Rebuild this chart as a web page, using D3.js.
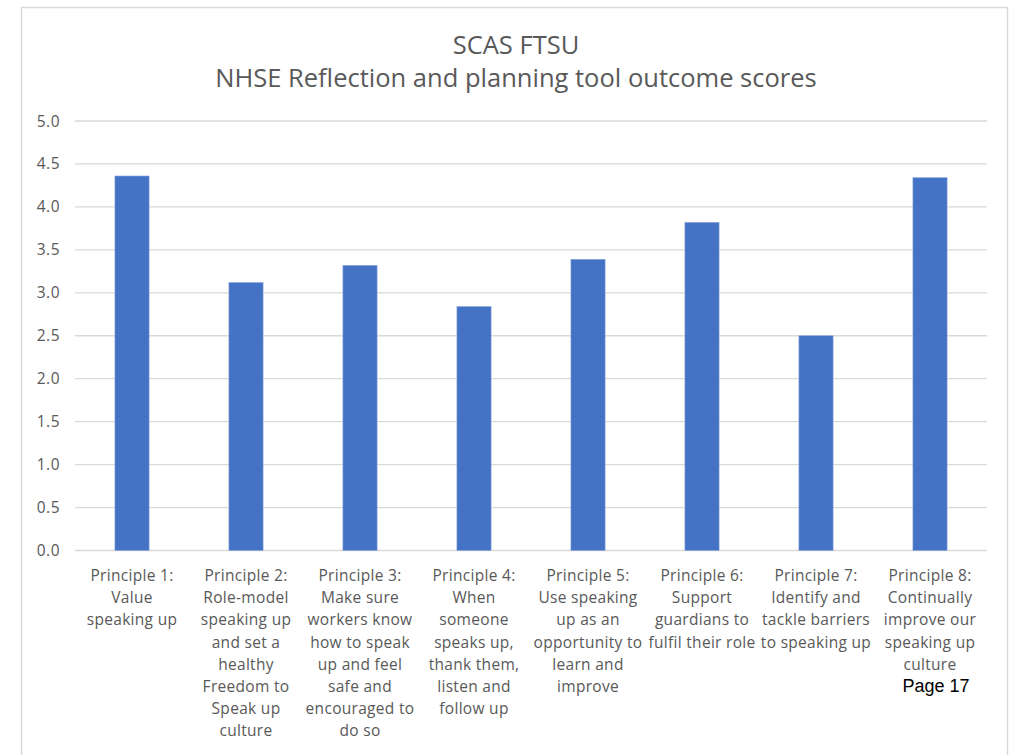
<!DOCTYPE html>
<html>
<head>
<meta charset="utf-8">
<script src="https://cdn.jsdelivr.net/npm/d3@7"></script>
<style>
    body { margin: 0; background: #fff; }
    .tick-label { font-family: "Open Sans", sans-serif; font-size: 15.5px; letter-spacing: 0.5px; fill: #595959; }
    .cat-label { font-family: "Open Sans", sans-serif; font-size: 15.5px; letter-spacing: 0.3px; fill: #595959; }
    .chart-title { font-family: "Open Sans", sans-serif; fill: #595959; }
</style>
</head>
<body>
<div id="chart"></div>
<script>
// chart data
var categories = [
    "Principle 1:\nValue\nspeaking up",
    "Principle 2:\nRole-model\nspeaking up\nand set a\nhealthy\nFreedom to\nSpeak up\nculture",
    "Principle 3:\nMake sure\nworkers know\nhow to speak\nup and feel\nsafe and\nencouraged to\ndo so",
    "Principle 4:\nWhen\nsomeone\nspeaks up,\nthank them,\nlisten and\nfollow up",
    "Principle 5:\nUse speaking\nup as an\nopportunity to\nlearn and\nimprove",
    "Principle 6:\nSupport\nguardians to\nfulfil their role",
    "Principle 7:\nIdentify and\ntackle barriers\nto speaking up",
    "Principle 8:\nContinually\nimprove our\nspeaking up\nculture"
];
var scores = [4.36, 3.12, 3.32, 2.84, 3.39, 3.82, 2.50, 4.34];
var yTicks = [0, 0.5, 1, 1.5, 2, 2.5, 3, 3.5, 4, 4.5, 5];
var titleLines = ["SCAS FTSU", "NHSE Reflection and planning tool outcome scores"];

var width = 1012, height = 755;

var svg = d3.select("#chart").append("svg")
    .attr("width", width)
    .attr("height", height);

// chart area border
svg.append("rect")
    .attr("x", 21.5).attr("y", 7.5)
    .attr("width", 986).attr("height", 760)
    .attr("fill", "none")
    .attr("stroke", "#d9d9d9")
    .attr("stroke-width", 1.5);

var plot = { left: 75, right: 987, top: 121, bottom: 550.5 };

var x = d3.scaleBand()
    .domain(d3.range(categories.length))
    .range([plot.left, plot.right])
    .paddingInner(0.7)
    .paddingOuter(0.35);

var y = d3.scaleLinear()
    .domain([0, 5])
    .range([plot.bottom, plot.top]);

// gridlines
svg.append("g").selectAll("line")
    .data(yTicks)
    .enter().append("line")
    .attr("x1", plot.left).attr("x2", plot.right)
    .attr("y1", function(d) { return y(d); })
    .attr("y2", function(d) { return y(d); })
    .attr("stroke", "#d9d9d9")
    .attr("stroke-width", 1.3);

// y axis labels
svg.append("g").selectAll("text")
    .data(yTicks)
    .enter().append("text")
    .attr("class", "tick-label")
    .attr("x", 60)
    .attr("y", function(d) { return y(d) + 5.5; })
    .attr("text-anchor", "end")
    .text(function(d) { return d3.format(".1f")(d); });

// bars
svg.append("g").selectAll("rect")
    .data(scores)
    .enter().append("rect")
    .attr("x", function(d, i) { return x(i); })
    .attr("width", x.bandwidth())
    .attr("y", function(d) { return y(d); })
    .attr("height", function(d) { return y(0) - y(d); })
    .attr("fill", "#4472c4")
    .attr("stroke", "#8faadc")
    .attr("stroke-width", 0.6);

// category labels, one tspan per line
var labels = svg.append("g").selectAll("text")
    .data(categories)
    .enter().append("text")
    .attr("class", "cat-label")
    .attr("text-anchor", "middle")
    .attr("x", function(d, i) { return x(i) + x.bandwidth() / 2; })
    .attr("y", 581);

labels.selectAll("tspan")
    .data(function(d) { return d.split("\n"); })
    .enter().append("tspan")
    .attr("x", function() { return d3.select(this.parentNode).attr("x"); })
    .attr("dy", function(d, i) { return i === 0 ? 0 : 22.2; })
    .text(function(d) { return d; });

// title
var title = svg.append("g").selectAll("text")
    .data(titleLines)
    .enter().append("text")
    .attr("class", "chart-title")
    .attr("text-anchor", "middle")
    .attr("x", 516)
    .attr("y", function(d, i) { return 54 + i * 33; })
    .attr("font-size", 22)
    .text(function(d) { return d; });

// squeeze the long title line to the width it has in the picture
var longLine = title.filter(function(d, i) { return i === 1; });
var w = longLine.node().getComputedTextLength();
var fs = 22 * 602 / w;
title.attr("font-size", fs);

// page number overlay
svg.append("text")
    .attr("x", 936)
    .attr("y", 692)
    .attr("text-anchor", "middle")
    .attr("font-family", "Liberation Sans, Arial, sans-serif")
    .attr("font-size", 18)
    .attr("fill", "#000")
    .text("Page 17");
</script>
</body>
</html>
